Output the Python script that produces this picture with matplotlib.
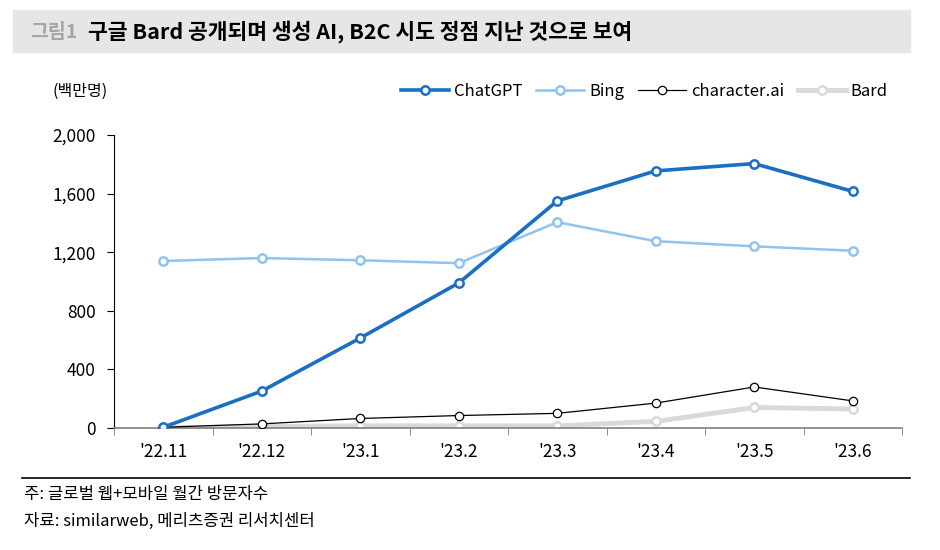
import numpy as np
import matplotlib.pyplot as plt
from matplotlib.patches import Rectangle
from matplotlib.lines import Line2D

plt.rcParams['font.family'] = ['Noto Sans CJK KR', 'DejaVu Sans']

months = ["'22.11", "'22.12", "'23.1", "'23.2", "'23.3", "'23.4", "'23.5", "'23.6"]
chatgpt = [5, 252, 614, 990, 1550, 1755, 1805, 1615]
bing = [1140, 1160, 1145, 1125, 1405, 1275, 1240, 1210]
character_ai = [5, 28, 65, 85, 100, 170, 280, 185]
bard = [0, 10, 15, 15, 15, 45, 140, 130]

fig = plt.figure(figsize=(9.4, 5.5), dpi=100)

# title band
fig.patches.append(Rectangle((13/940, 1-52/550), 897/940, 42/550,
                             transform=fig.transFigure, color='#e6e6e6', zorder=0))
fig.text(30/940, 1-32/550, '그림1', fontsize=14, fontweight='bold', color='#a6a6a6', va='center')
fig.text(88/940, 1-32/550, '구글 Bard 공개되며 생성 AI, B2C 시도 정점 지난 것으로 보여',
         fontsize=15.5, fontweight='bold', color='black', va='center')

ax = fig.add_axes([114/940, 1-428/550, 788/940, 293/550])
x = np.arange(len(months))

ax.plot(x, bard, color='#d9d9d9', lw=3.5, marker='o', ms=6, mfc='white', mec='#d9d9d9', mew=1.8, zorder=2)
ax.plot(x, character_ai, color='black', lw=0.9, marker='o', ms=6, mfc='white', mec='black', mew=0.9, zorder=3)
ax.plot(x, bing, color='#8fc3f0', lw=1.8, marker='o', ms=6, mfc='white', mec='#8fc3f0', mew=1.8, zorder=3)
ax.plot(x, chatgpt, color='#1a6fc4', lw=2.6, marker='o', ms=6, mfc='white', mec='#1a6fc4', mew=1.8, zorder=4)

ax.set_xlim(-0.5, len(months)-0.5)
ax.set_ylim(0, 2000)
ax.set_yticks([0, 400, 800, 1200, 1600, 2000])
ax.set_yticklabels(['0', '400', '800', '1,200', '1,600', '2,000'])
ax.set_xticks(x)
ax.set_xticklabels(months)
ax.set_xticks(np.arange(-0.5, len(months)), minor=True)
ax.tick_params(axis='x', which='major', length=0, pad=11, labelsize=12.5)
ax.tick_params(axis='x', which='minor', length=5, color='#7f7f7f', direction='out')
ax.tick_params(axis='y', length=5, labelsize=12.5, pad=8)
for s in ['top', 'right']:
    ax.spines[s].set_visible(False)
ax.spines['bottom'].set_color('#7f7f7f')
ax.spines['bottom'].set_linewidth(1.2)
ax.spines['left'].set_color('black')
ax.spines['left'].set_bounds(0, 2000)

fig.text(53/940, 1-91/550, '(백만명)', fontsize=11.5, va='center')

handles = [
    Line2D([], [], color='#1a6fc4', lw=2.6, marker='o', ms=6, mfc='white', mec='#1a6fc4', mew=1.8),
    Line2D([], [], color='#8fc3f0', lw=1.8, marker='o', ms=6, mfc='white', mec='#8fc3f0', mew=1.8),
    Line2D([], [], color='black', lw=0.9, marker='o', ms=6, mfc='white', mec='black', mew=0.9),
    Line2D([], [], color='#d9d9d9', lw=3.5, marker='o', ms=6, mfc='white', mec='#d9d9d9', mew=1.8),
]
fig.legend(handles, ['ChatGPT', 'Bing', 'character.ai', 'Bard'], ncol=4, frameon=False,
           loc='center right', bbox_to_anchor=(903/940, 1-91/550), fontsize=12,
           handlelength=2.9, handletextpad=0.3, columnspacing=0.8)

# footer
fig.add_artist(Line2D([22/940, 910/940], [1-478/550, 1-478/550], color='black', lw=1.2))
fig.text(24/940, 1-494/550, '주: 글로벌 웹+모바일 월간 방문자수', fontsize=12, va='center')
fig.text(24/940, 1-521/550, '자료: similarweb, 메리츠증권 리서치센터', fontsize=12, va='center')

fig.savefig('out.png', dpi=100)
